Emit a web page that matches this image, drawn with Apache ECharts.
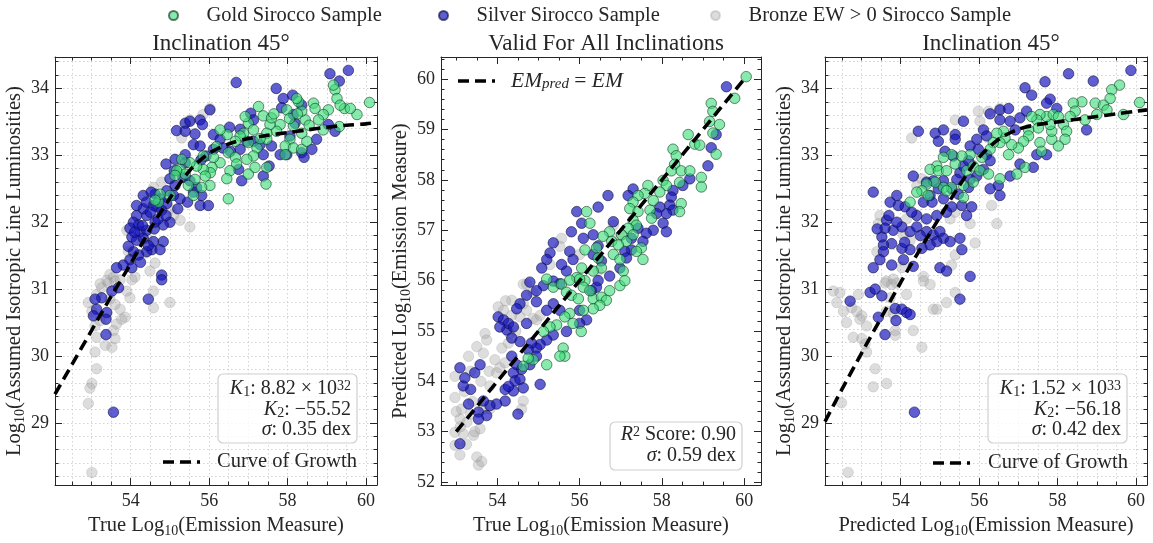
<!DOCTYPE html>
<html>
<head>
<meta charset="utf-8">
<script src="https://cdn.jsdelivr.net/npm/echarts@6/dist/echarts.min.js"></script>
<style>html,body{margin:0;padding:0;background:#fff}#c{width:1153px;height:543px}</style>
</head>
<body>
<div id="c"></div>
<script>
// ---------------- DATA ----------------
const seriesNames = ['Gold Sirocco Sample', 'Silver Sirocco Sample', 'Bronze EW > 0 Sirocco Sample'];
const panelTitles = ['Inclination 45°', 'Valid For All Inclinations', 'Inclination 45°'];

// tick labels / tick positions
const lumMajor = [29, 30, 31, 32, 33, 34];
const lumMinor = [28.2,28.4,28.6,28.8,29,29.2,29.4,29.6,29.8,30,30.2,30.4,30.6,30.8,31,31.2,31.4,31.6,31.8,32,32.2,32.4,32.6,32.8,33,33.2,33.4,33.6,33.8,34,34.2,34.4];
const emMajorX = [54, 56, 58, 60];
const emMinorX = [52.5,53,53.5,54,54.5,55,55.5,56,56.5,57,57.5,58,58.5,59,59.5,60];
const emMajorY = [52, 53, 54, 55, 56, 57, 58, 59, 60];
const emMinorY = [52,52.2,52.4,52.6,52.8,53,53.2,53.4,53.6,53.8,54,54.2,54.4,54.6,54.8,55,55.2,55.4,55.6,55.8,56,56.2,56.4,56.6,56.8,57,57.2,57.4,57.6,57.8,58,58.2,58.4,58.6,58.8,59,59.2,59.4,59.6,59.8,60,60.2,60.4];

// Panel 1: true EM vs luminosity
const p1Gold = [[60.09,33.79],[59.77,33.61],[59.45,33.70],[59.21,33.98],[59.17,34.05],[59.26,33.85],[59.34,33.75],[59.04,33.68],[58.91,33.61],[58.66,33.78],[58.70,33.70],[58.79,33.53],[59.32,33.43],[58.91,33.38],[58.45,33.53],[58.36,33.66],[58.28,33.80],[58.23,33.85],[57.98,33.68],[58.15,33.44],[58.06,33.24],[57.94,33.14],[58.15,33.11],[58.36,33.09],[58.49,33.21],[58.36,33.33],[57.81,33.46],[57.72,33.36],[57.55,33.46],[57.47,33.33],[57.26,33.73],[57.38,33.59],[57.59,33.56],[57.47,33.24],[57.00,33.48],[56.88,33.33],[57.13,33.38],[57.00,33.19],[57.22,33.11],[57.13,32.99],[56.96,32.94],[57.00,32.72],[57.17,32.82],[57.45,32.57],[57.47,32.82],[57.94,33.01],[56.79,33.29],[56.67,33.21],[56.46,33.31],[56.28,33.38],[56.19,33.13],[56.49,33.04],[56.67,32.97],[56.70,32.87],[56.53,32.77],[56.45,32.65],[56.49,32.35],[56.28,32.89],[56.11,32.97],[56.07,32.82],[56.03,32.74],[55.85,32.99],[55.85,32.79],[55.90,32.69],[56.02,32.55],[55.81,32.52],[55.64,32.64],[55.68,32.84],[55.51,32.89],[55.30,32.94],[55.26,32.79],[55.39,32.72],[55.47,32.55],[55.60,32.40],[55.17,32.77],[55.13,32.70],[55.00,32.40],[54.71,32.30],[54.75,32.42],[54.62,32.33],[57.65,33.62],[58.55,33.45],[58.05,33.55],[56.92,33.58],[57.30,33.25],[58.25,33.62],[59.60,33.70]];
const p1Silver = [[56.69,34.09],[59.08,34.22],[59.55,34.27],[59.32,34.11],[57.71,34.00],[57.89,33.85],[57.85,33.71],[58.13,33.90],[58.36,33.75],[58.15,33.61],[57.06,33.63],[57.13,33.53],[56.79,33.39],[56.52,33.42],[56.02,33.68],[55.77,33.53],[55.83,33.46],[55.39,33.48],[55.17,33.37],[55.39,33.36],[55.64,33.32],[55.51,33.51],[56.11,33.31],[56.28,33.24],[56.35,33.11],[56.11,33.09],[55.92,32.99],[55.79,32.93],[55.39,33.01],[55.39,32.89],[55.13,32.94],[54.90,32.87],[55.11,32.77],[55.00,32.65],[55.13,32.55],[55.33,32.67],[55.51,32.62],[55.68,32.52],[55.77,32.25],[55.98,32.25],[55.81,32.40],[55.60,32.45],[55.26,32.35],[55.09,32.40],[54.92,32.47],[54.92,32.28],[54.75,32.35],[54.62,32.42],[54.52,32.45],[54.66,32.23],[54.79,32.18],[55.00,32.00],[54.83,31.96],[54.62,32.00],[54.41,32.10],[54.32,32.20],[54.15,32.10],[54.07,32.00],[54.20,31.96],[53.98,31.91],[54.24,31.86],[54.41,31.88],[54.03,31.78],[54.15,31.73],[54.32,31.76],[54.58,31.71],[54.83,31.71],[54.54,31.59],[54.75,31.59],[54.41,31.56],[54.20,31.51],[54.07,31.56],[53.94,31.64],[53.98,31.44],[53.81,31.36],[53.64,31.32],[54.03,31.32],[54.79,31.21],[54.58,32.25],[54.32,32.40],[54.15,32.25],[55.60,33.16],[55.77,33.14],[56.54,33.06],[56.79,33.09],[56.75,32.79],[56.83,32.62],[57.38,32.69],[57.53,32.84],[57.38,33.01],[57.30,33.16],[57.59,33.14],[57.81,33.01],[57.98,33.01],[58.36,33.04],[58.42,32.97],[58.62,33.09],[59.21,33.36],[58.74,33.24],[59.04,33.46],[58.19,33.48],[58.06,33.29],[57.13,33.21],[56.96,33.21],[54.79,31.14],[53.13,30.70],[53.05,30.60],[53.26,30.87],[53.52,30.97],[53.69,31.02],[53.39,30.65],[53.37,30.55],[53.37,30.32],[54.45,30.85],[53.56,29.16],[53.09,30.85],[54.30,31.95],[54.50,32.15],[54.70,32.05],[54.10,31.85],[54.45,31.65],[54.60,31.90],[54.90,32.10],[55.20,32.20],[54.25,31.40],[54.40,32.30],[55.45,32.30]];
const p1Bronze = [[56.02,33.70],[55.84,33.61],[55.30,33.26],[55.51,33.53],[54.79,32.60],[54.58,32.52],[55.51,31.93],[55.26,32.03],[55.00,32.20],[55.09,32.10],[53.90,31.88],[54.41,31.76],[54.37,31.54],[54.62,31.39],[54.49,31.27],[53.94,31.56],[53.47,31.22],[53.56,31.18],[53.39,31.13],[53.22,31.08],[54.11,31.18],[53.13,30.92],[53.26,31.02],[53.43,31.09],[53.60,31.12],[53.73,31.14],[53.47,30.85],[53.60,30.77],[53.73,30.70],[53.86,30.58],[53.77,30.55],[53.64,30.48],[53.56,30.38],[53.60,30.26],[53.52,30.13],[53.35,30.16],[53.13,30.28],[53.09,30.06],[53.13,29.81],[53.01,29.59],[52.96,29.52],[52.92,29.29],[53.01,28.26],[54.03,31.14],[53.90,30.97],[53.98,30.87],[54.58,30.97],[54.58,30.72],[55.00,30.80],[53.09,30.45],[53.22,30.53],[53.01,30.67],[52.92,30.80]];
const cogX = [52.07,52.5,53,53.5,54,54.5,55,55.5,56,56.5,57,57.5,58,58.5,59,59.5,60,60.28];
const p1CogY = [29.43,29.87,30.38,30.89,31.38,31.90,32.36,32.77,33.03,33.17,33.25,33.30,33.34,33.38,33.42,33.45,33.47,33.49];

// Panel 2: true EM vs predicted EM
const p2Gold = [[60.05,60.05],[59.77,59.62],[59.20,59.52],[59.24,59.36],[59.16,59.16],[59.40,59.10],[59.24,58.93],[59.32,58.51],[58.64,58.90],[58.80,58.71],[58.92,58.69],[58.27,58.61],[58.35,58.48],[58.31,58.31],[58.23,58.18],[58.47,58.18],[58.68,58.18],[58.43,57.95],[58.47,57.53],[58.43,57.37],[58.96,58.05],[58.96,57.86],[58.03,57.99],[58.11,57.89],[57.95,57.76],[57.66,57.89],[57.58,57.73],[57.79,57.59],[57.71,57.40],[57.75,57.24],[57.42,57.69],[57.30,57.56],[57.22,57.43],[57.42,57.37],[57.30,57.20],[57.38,57.10],[57.18,57.04],[57.02,56.91],[57.14,56.78],[57.30,56.91],[57.50,56.65],[57.38,56.58],[57.54,56.42],[56.73,56.97],[56.57,56.88],[56.78,56.78],[56.94,56.71],[56.82,56.52],[56.98,56.42],[57.06,56.19],[56.41,56.65],[56.45,56.45],[56.53,56.25],[56.33,56.19],[56.13,56.61],[56.17,57.37],[56.25,57.14],[56.05,56.25],[55.93,56.06],[56.13,56.00],[55.20,56.03],[55.36,55.87],[55.56,55.93],[55.76,56.01],[56.00,56.03],[56.09,55.87],[55.68,55.77],[55.80,55.71],[55.97,55.64],[56.33,55.64],[56.53,55.67],[56.65,55.61],[56.49,55.51],[56.73,55.80],[56.33,55.44],[56.09,55.41],[55.76,55.35],[55.84,55.15],[55.64,55.28],[55.44,55.12],[55.28,55.08],[55.12,54.99],[56.04,54.99],[55.60,54.66],[55.64,54.50],[55.52,54.50],[55.20,54.33],[54.87,54.43],[54.75,54.46],[54.63,54.30],[56.98,55.90],[57.10,56.00],[56.25,55.80]];
const p2Silver = [[59.57,59.85],[59.32,58.90],[59.20,58.64],[59.12,58.28],[58.68,58.02],[58.51,57.89],[58.27,57.79],[58.23,57.66],[58.19,57.50],[58.27,57.40],[58.11,57.33],[58.03,57.14],[58.11,56.97],[57.95,57.46],[57.87,57.33],[57.79,57.00],[57.62,56.94],[57.54,56.78],[57.42,57.04],[57.30,57.82],[57.18,57.69],[57.26,56.84],[57.26,56.61],[57.10,56.58],[57.14,56.45],[56.98,56.25],[56.73,56.09],[56.53,56.39],[56.82,57.17],[56.69,57.69],[56.45,57.46],[56.33,56.91],[56.45,56.69],[56.33,56.52],[56.09,56.84],[56.05,57.14],[55.80,56.97],[55.93,57.37],[55.76,56.58],[55.84,56.42],[55.68,56.19],[55.56,56.32],[55.36,56.75],[55.28,56.55],[55.20,56.42],[55.08,56.25],[55.52,55.94],[55.36,55.99],[55.12,55.90],[54.95,55.80],[54.79,55.97],[54.71,55.71],[54.55,55.54],[54.47,55.44],[54.95,55.58],[55.36,55.54],[55.20,55.41],[55.52,55.41],[56.00,55.41],[56.29,55.80],[56.41,55.87],[56.45,56.00],[56.17,55.22],[56.00,55.15],[55.68,54.99],[55.36,54.92],[55.20,54.82],[55.04,54.73],[54.95,54.66],[54.83,54.76],[54.75,54.63],[54.95,54.50],[54.79,54.33],[54.59,54.24],[54.47,54.33],[54.35,54.50],[54.39,54.17],[54.43,54.01],[54.55,54.04],[55.04,53.94],[54.39,53.81],[54.19,53.84],[54.19,53.61],[53.98,53.55],[53.82,53.52],[53.66,53.61],[53.54,53.39],[53.74,53.32],[53.30,53.55],[53.35,53.84],[53.17,53.91],[53.21,54.07],[53.09,54.27],[53.45,54.17],[53.58,54.33],[53.54,53.25],[53.09,52.76],[54.50,53.35],[54.63,53.87],[54.27,53.90],[54.02,55.28],[54.15,55.22],[54.23,55.02],[54.27,55.15],[54.39,55.08],[54.06,55.08],[54.35,54.86],[54.55,54.79],[54.71,55.15]];
const p2Bronze = [[52.97,52.73],[53.09,52.54],[52.97,52.99],[53.17,52.96],[53.26,53.19],[53.42,52.93],[53.58,53.06],[53.50,52.50],[53.54,52.34],[53.62,52.41],[52.97,53.68],[53.13,53.45],[53.09,53.25],[53.35,53.35],[53.66,53.45],[53.82,53.45],[52.97,54.10],[53.35,54.20],[53.66,54.56],[53.50,54.69],[53.70,54.95],[53.74,54.82],[53.94,54.43],[54.06,54.27],[53.98,54.17],[54.19,54.37],[54.11,54.66],[54.27,54.76],[54.02,55.48],[54.15,55.41],[54.35,55.31],[54.55,55.28],[54.71,55.41],[54.87,55.25],[54.95,55.22],[55.04,55.31],[54.63,55.54],[54.71,55.93],[54.63,53.61],[54.59,53.45],[54.87,55.77],[54.35,55.61],[53.82,53.91],[54.63,55.93],[55.56,56.84],[55.52,56.68],[55.28,56.32],[56.00,56.52],[56.45,56.19],[56.98,56.88],[56.82,57.10],[53.20,53.80],[53.40,53.60],[53.30,54.50],[53.60,54.00],[53.80,54.20],[53.10,53.10],[53.45,53.00],[54.30,54.95],[54.45,55.00],[54.20,55.60],[53.25,52.75],[53.00,53.40]];
const p2LineX = [53, 60.05];
const p2LineY = [53, 60.05];

// Panel 3: predicted EM vs luminosity
const p3Gold = [[60.09,33.79],[59.58,34.05],[59.38,33.98],[59.34,33.85],[58.96,33.78],[59.17,33.75],[59.26,33.68],[59.68,33.61],[59.00,33.61],[58.70,33.53],[58.62,33.80],[58.40,33.78],[58.45,33.66],[58.32,33.58],[58.15,33.46],[58.23,33.36],[58.19,33.24],[58.02,33.14],[57.85,33.24],[57.85,33.36],[57.81,33.46],[57.72,33.58],[57.55,33.61],[57.47,33.53],[57.34,33.58],[57.51,33.41],[57.55,33.19],[57.59,33.06],[57.89,33.61],[58.02,33.58],[57.26,33.38],[57.26,33.29],[57.13,33.21],[57.00,33.11],[56.83,33.16],[56.66,33.26],[56.62,33.36],[56.45,33.33],[56.53,33.19],[56.75,33.01],[57.17,32.82],[56.96,32.72],[56.36,33.19],[56.28,33.09],[56.07,32.97],[55.77,33.01],[55.56,32.99],[55.30,33.01],[55.09,32.97],[54.92,32.84],[54.75,32.79],[54.96,32.77],[55.17,32.77],[55.39,32.87],[55.68,32.77],[55.85,32.84],[56.02,32.77],[56.24,32.72],[55.85,32.60],[55.60,32.55],[55.30,32.52],[55.09,32.52],[54.88,32.60],[54.66,32.57],[54.54,32.47],[54.41,32.45],[54.24,32.30],[54.70,32.40],[55.17,32.47],[55.60,32.37],[56.53,32.65]];
const p3Silver = [[59.87,34.27],[58.28,34.22],[58.91,34.11],[57.68,34.10],[57.17,34.01],[57.34,33.90],[57.81,33.84],[57.72,33.78],[57.98,33.70],[56.75,33.70],[56.53,33.68],[56.28,33.62],[57.21,33.66],[57.04,33.56],[56.79,33.51],[56.92,33.38],[56.53,33.53],[56.11,33.38],[56.19,33.29],[55.94,33.24],[55.77,33.14],[55.98,33.09],[56.19,33.01],[56.28,32.92],[56.11,32.79],[55.94,32.69],[55.77,32.64],[55.51,32.74],[55.60,32.84],[55.73,32.92],[55.34,32.99],[55.13,33.06],[55.43,32.64],[55.30,32.50],[55.47,32.42],[55.73,32.52],[55.56,32.25],[55.68,32.10],[55.81,32.23],[56.49,32.55],[56.53,32.40],[56.28,32.50],[57.47,33.01],[57.72,33.01],[57.38,32.82],[56.79,32.69],[57.04,32.87],[58.74,33.38],[54.45,33.36],[54.88,33.33],[55.09,33.38],[55.39,33.31],[55.39,33.24],[55.60,33.51],[54.96,33.21],[54.32,32.69],[54.66,32.60],[54.83,32.62],[55.09,32.62],[54.96,32.50],[54.75,32.40],[54.58,32.30],[55.09,32.35],[55.30,32.23],[55.17,32.15],[54.92,32.10],[54.66,32.05],[54.41,32.10],[54.28,32.15],[54.11,32.23],[53.94,32.25],[53.90,32.40],[53.73,32.30],[53.64,32.03],[53.81,31.88],[54.03,31.93],[54.24,31.86],[54.41,31.93],[54.66,31.86],[54.83,31.81],[55.00,31.86],[55.09,31.76],[55.26,31.71],[55.51,31.76],[55.56,31.59],[54.92,31.71],[54.75,31.66],[54.54,31.61],[54.24,31.59],[54.03,31.61],[53.77,31.68],[53.52,31.78],[53.56,31.66],[53.56,31.56],[54.07,31.44],[53.77,31.36],[53.30,31.32],[53.30,32.45],[54.32,31.34],[55.00,31.32],[55.17,31.27],[55.77,31.19],[53.47,31.44],[53.60,31.91],[52.71,30.82],[53.22,30.95],[53.35,31.00],[53.52,30.90],[53.43,30.58],[53.86,30.71],[54.03,30.70],[54.15,30.65],[54.24,30.62],[53.88,30.53],[53.60,30.32],[55.51,30.85],[54.35,29.16],[53.70,32.10],[53.90,32.00],[54.10,31.70],[54.50,31.80],[53.40,31.90],[54.80,32.30]];
const p3Bronze = [[54.28,33.26],[55.39,33.53],[55.98,33.66],[56.24,33.66],[56.53,33.70],[56.02,33.51],[56.32,32.25],[56.45,31.98],[55.90,31.69],[55.77,31.98],[54.41,32.55],[54.54,32.65],[53.47,32.10],[53.43,31.98],[54.15,32.05],[54.07,31.81],[54.24,31.73],[53.39,31.56],[54.03,31.32],[54.66,31.66],[55.30,31.36],[55.39,31.51],[54.58,31.19],[53.64,31.12],[53.81,31.15],[55.26,32.05],[55.39,32.15],[52.28,30.97],[52.45,30.95],[52.37,30.80],[52.54,30.67],[52.62,30.50],[52.75,30.72],[52.92,30.92],[52.88,30.67],[53.01,30.60],[52.96,30.55],[53.13,30.45],[52.79,30.28],[53.01,30.26],[53.09,30.18],[53.13,30.06],[53.35,29.81],[53.30,29.54],[53.64,29.59],[52.49,29.30],[52.66,28.26],[53.60,31.09],[53.77,31.07],[53.90,31.09],[53.73,30.87],[53.64,30.67],[53.81,30.63],[53.86,30.38],[53.86,30.31],[54.32,30.38],[54.54,30.13],[54.15,30.92],[54.58,31.12],[54.75,31.07],[54.83,30.70],[54.92,30.70],[55.17,30.80],[55.39,30.95]];
const p3CogY = [29.02,29.50,30.04,30.57,31.10,31.60,32.08,32.55,32.97,33.24,33.39,33.46,33.50,33.54,33.58,33.62,33.66,33.68];

// ---------------- CHART ----------------
const FONT = "'Liberation Serif', 'DejaVu Serif', serif";
const INK = '#262626';
const zip = (xs, ys) => xs.map((x, i) => [x, ys[i]]);

const grids = [
  { left: 55, top: 57, width: 322, height: 433 },
  { left: 441, top: 57, width: 320, height: 433 },
  { left: 825, top: 57, width: 322, height: 433 }
];
const xRanges = [[52.07, 60.28], [52.63, 60.41], [52.07, 60.28]];
const yRanges = [[28.07, 34.47], [51.94, 60.44], [28.07, 34.47]];
const xNames = ['{n|True Log}{s|10}{n|(Emission Measure)}', '{n|True Log}{s|10}{n|(Emission Measure)}', '{n|Predicted Log}{s|10}{n|(Emission Measure)}'];
const yNames = ['{n|Log}{s|10}{n|(Assumed Isotropic Line Luminosities)}', '{n|Predicted Log}{s|10}{n|(Emission Measure)}', '{n|Log}{s|10}{n|(Assumed Isotropic Line Luminosities)}'];
const showGrid = [true, false, true];
const nameRich = {
  n: { fontFamily: FONT, fontSize: 20.5, color: INK, lineHeight: 25 },
  s: { fontFamily: FONT, fontSize: 14, color: INK, lineHeight: 14, verticalAlign: 'bottom' }
};

const xAxes = [], yAxes = [];
for (let g = 0; g < 3; g++) {
  const xmaj = emMajorX, xmin = emMinorX;
  const ymaj = g === 1 ? emMajorY : lumMajor;
  const ymin = g === 1 ? emMinorY : lumMinor;
  const [x0, x1] = xRanges[g], [y0, y1] = yRanges[g];
  const split = { show: showGrid[g], lineStyle: { type: [1.5, 2.5], color: '#c8c8c8', width: 0.8 } };
  const base = (extra) => Object.assign({ type: 'value', gridIndex: g, scale: true }, extra);
  xAxes.push(base({ min: x0, max: x1, position: 'bottom', name: xNames[g], nameLocation: 'middle', nameGap: 26,
    nameTextStyle: { rich: nameRich },
    axisLine: { show: true, onZero: false, lineStyle: { color: INK, width: 1 } },
    axisTick: { show: true, inside: true, length: 7, customValues: xmaj, lineStyle: { color: INK } },
    axisLabel: { show: true, customValues: xmaj, fontFamily: FONT, fontSize: 18, color: INK, margin: 7 },
    splitLine: { show: false } }));
  xAxes.push(base({ min: x0, max: x1, position: 'bottom',
    axisLine: { show: false, onZero: false },
    axisTick: { show: true, inside: true, length: 3.5, customValues: xmin, lineStyle: { color: INK } },
    axisLabel: { show: false }, splitLine: split }));
  xAxes.push(base({ min: x0, max: x1, position: 'top',
    axisLine: { show: true, onZero: false, lineStyle: { color: INK, width: 1 } },
    axisTick: { show: true, inside: true, length: 7, customValues: xmaj, lineStyle: { color: INK } },
    axisLabel: { show: false }, splitLine: { show: false } }));
  xAxes.push(base({ min: x0, max: x1, position: 'top',
    axisLine: { show: false, onZero: false },
    axisTick: { show: true, inside: true, length: 3.5, customValues: xmin, lineStyle: { color: INK } },
    axisLabel: { show: false }, splitLine: { show: false } }));

  yAxes.push(base({ min: y0, max: y1, position: 'left', name: yNames[g], nameLocation: 'middle', nameGap: 26,
    nameTextStyle: { rich: nameRich },
    axisLine: { show: true, onZero: false, lineStyle: { color: INK, width: 1 } },
    axisTick: { show: true, inside: true, length: 7, customValues: ymaj, lineStyle: { color: INK } },
    axisLabel: { show: true, customValues: ymaj, fontFamily: FONT, fontSize: 18, color: INK, margin: 6 },
    splitLine: { show: false } }));
  yAxes.push(base({ min: y0, max: y1, position: 'left',
    axisLine: { show: false, onZero: false },
    axisTick: { show: true, inside: true, length: 3.5, customValues: ymin, lineStyle: { color: INK } },
    axisLabel: { show: false }, splitLine: split }));
  yAxes.push(base({ min: y0, max: y1, position: 'right',
    axisLine: { show: true, onZero: false, lineStyle: { color: INK, width: 1 } },
    axisTick: { show: true, inside: true, length: 7, customValues: ymaj, lineStyle: { color: INK } },
    axisLabel: { show: false }, splitLine: { show: false } }));
  yAxes.push(base({ min: y0, max: y1, position: 'right',
    axisLine: { show: false, onZero: false },
    axisTick: { show: true, inside: true, length: 3.5, customValues: ymin, lineStyle: { color: INK } },
    axisLabel: { show: false }, splitLine: { show: false } }));
}

const styles = {
  gold: { color: 'rgba(64,222,122,0.78)', borderColor: 'rgba(10,50,30,0.8)', borderWidth: 0.9 },
  silver: { color: 'rgba(22,22,190,0.86)', borderColor: 'rgba(10,10,60,0.8)', borderWidth: 0.9 },
  bronze: { color: 'rgba(160,160,160,0.45)', borderColor: 'rgba(130,130,130,0.35)', borderWidth: 0.8 }
};
const panelData = [
  { gold: p1Gold, silver: p1Silver, bronze: p1Bronze },
  { gold: p2Gold, silver: p2Silver, bronze: p2Bronze },
  { gold: p3Gold, silver: p3Silver, bronze: p3Bronze }
];
const series = [];
for (let g = 0; g < 3; g++) {
  const ax = { xAxisIndex: 4 * g, yAxisIndex: 4 * g };
  series.push(Object.assign({ type: 'scatter', name: seriesNames[2], data: panelData[g].bronze, symbolSize: 10.5, itemStyle: styles.bronze, z: 2 }, ax));
  series.push(Object.assign({ type: 'scatter', name: seriesNames[1], data: panelData[g].silver, symbolSize: 10.5, itemStyle: styles.silver, z: 3 }, ax));
  series.push(Object.assign({ type: 'scatter', name: seriesNames[0], data: panelData[g].gold, symbolSize: 10.5, itemStyle: styles.gold, z: 4 }, ax));
}
const lineStyle = { color: '#000', width: 3.6, type: [11, 6] };
series.push({ type: 'line', name: 'Curve of Growth', xAxisIndex: 0, yAxisIndex: 0, data: zip(cogX, p1CogY), smooth: 0.3, showSymbol: false, symbol: 'none', lineStyle, z: 6, silent: true });
series.push({ type: 'line', name: 'EM_pred = EM', xAxisIndex: 4, yAxisIndex: 4, data: zip(p2LineX, p2LineY), showSymbol: false, symbol: 'none', lineStyle, z: 6, silent: true });
series.push({ type: 'line', name: 'Curve of Growth 3', xAxisIndex: 8, yAxisIndex: 8, data: zip(cogX, p3CogY), smooth: 0.3, showSymbol: false, symbol: 'none', lineStyle, z: 6, silent: true });

const legendBase = { top: 0, itemWidth: 56, itemHeight: 9, icon: 'circle', textStyle: { fontFamily: FONT, fontSize: 20.5, color: INK }, selectedMode: false };
const legends = [
  Object.assign({ left: 163, data: [seriesNames[0]] }, legendBase),
  Object.assign({ left: 433, data: [seriesNames[1]] }, legendBase),
  Object.assign({ left: 705, data: [seriesNames[2]] }, legendBase)
];

const titles = grids.map((gr, i) => ({
  text: panelTitles[i], left: gr.left + gr.width / 2, top: 27, textAlign: 'center',
  textStyle: { fontFamily: FONT, fontSize: 23, fontWeight: 'normal', color: INK }
}));

const boxRich = {
  n: { fontFamily: FONT, fontSize: 20, color: INK },
  i: { fontFamily: FONT, fontSize: 20, color: INK, fontStyle: 'italic' },
  sub: { fontFamily: FONT, fontSize: 14, color: INK, verticalAlign: 'bottom', lineHeight: 12 },
  sup: { fontFamily: FONT, fontSize: 14, color: INK, verticalAlign: 'top', lineHeight: 12 },
  isub: { fontFamily: FONT, fontSize: 14, color: INK, fontStyle: 'italic', verticalAlign: 'bottom', lineHeight: 12 },
  mi: { fontFamily: FONT, fontSize: 21.5, color: INK, fontStyle: 'italic' },
  mn: { fontFamily: FONT, fontSize: 21.5, color: INK },
  misub: { fontFamily: FONT, fontSize: 15, color: INK, fontStyle: 'italic', verticalAlign: 'bottom', lineHeight: 12 },
  lg: { fontFamily: FONT, fontSize: 20.5, color: INK }
};
function txt(x, y, text, align) {
  return { type: 'text', x, y, z: 20, style: { text, rich: boxRich, align: align || 'right', verticalAlign: 'middle', fill: INK } };
}
function box(x, y, w, h) {
  return { type: 'rect', shape: { x, y, width: w, height: h, r: 5 }, z: 19, style: { fill: 'rgba(255,255,255,0.8)', stroke: '#cfcfcf', lineWidth: 1.2 } };
}
function dash(x1, x2, y) {
  return { type: 'line', shape: { x1, y1: y, x2, y2: y }, z: 20, style: { stroke: '#000', lineWidth: 3.6, lineDash: [11, 6] } };
}
const graphics = [
  box(218, 374, 139, 69),
  txt(351, 389, '{i|K}{sub|1}{n|: 8.82 × 10}{sup|32}'),
  txt(351, 410, '{i|K}{sub|2}{n|: −55.52}'),
  txt(351, 430, '{i|σ}{n|: 0.35 dex}'),
  dash(163, 200, 462),
  txt(217, 462, '{lg|Curve of Growth}', 'left'),

  box(610, 422, 132, 48),
  txt(736, 435, '{i|R}{sup|2}{n| Score: 0.90}'),
  txt(736, 456, '{i|σ}{n|: 0.59 dex}'),
  dash(458, 495, 81),
  txt(511, 81, '{mi|EM}{misub|pred}{mn| = }{mi|EM}', 'left'),

  box(988, 374, 139, 69),
  txt(1121, 389, '{i|K}{sub|1}{n|: 1.52 × 10}{sup|33}'),
  txt(1121, 410, '{i|K}{sub|2}{n|: −56.18}'),
  txt(1121, 430, '{i|σ}{n|: 0.42 dex}'),
  dash(933, 970, 463),
  txt(988, 463, '{lg|Curve of Growth}', 'left')
];

const chart = echarts.init(document.getElementById('c'), null, { renderer: 'canvas' });
chart.setOption({
  animation: false,
  backgroundColor: '#fff',
  title: titles,
  legend: legends,
  grid: grids,
  xAxis: xAxes,
  yAxis: yAxes,
  series,
  graphic: graphics
});
</script>
</body>
</html>
